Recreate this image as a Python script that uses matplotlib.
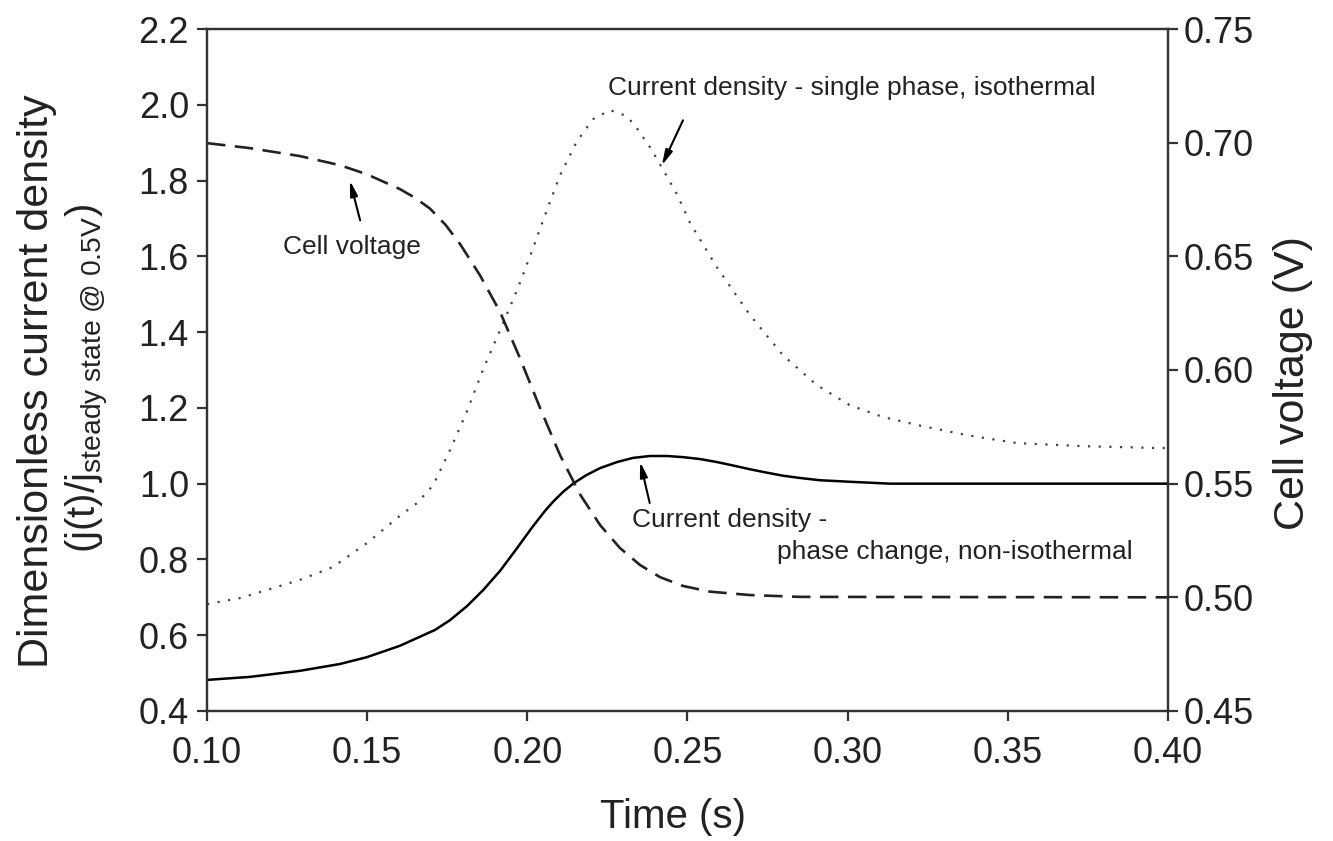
#!/usr/bin/env python
# -*- coding: utf-8 -*-
"""
Transient response: dimensionless current density and cell voltage vs time
"""

import matplotlib
matplotlib.use('Agg')
import matplotlib.pyplot as plt

# Global settings
plt.rcParams['font.family'] = ['Liberation Sans', 'DejaVu Sans']
plt.rcParams['mathtext.fontset'] = 'custom'
plt.rcParams['mathtext.rm'] = 'Liberation Sans'
plt.rcParams['mathtext.it'] = 'Liberation Sans'
plt.rcParams['figure.dpi'] = 100

# Current density - phase change, non-isothermal (left axis)
t_phase = [0.1000, 0.1134, 0.1290, 0.1415, 0.1499, 0.1602, 0.1712, 0.1759,
           0.1812, 0.1862, 0.1915, 0.1968, 0.2018, 0.2055, 0.2080, 0.2111,
           0.2143, 0.2183, 0.2227, 0.2280, 0.2330, 0.2383, 0.2436, 0.2486,
           0.2539, 0.2592, 0.2642, 0.2695, 0.2748, 0.2798, 0.2851, 0.2914,
           0.3007, 0.3132, 0.4000]
j_phase = [0.482, 0.490, 0.506, 0.524, 0.542, 0.572, 0.614, 0.640,
           0.677, 0.719, 0.770, 0.830, 0.888, 0.928, 0.952, 0.978,
           1.000, 1.022, 1.041, 1.057, 1.068, 1.073, 1.073, 1.070,
           1.065, 1.057, 1.048, 1.038, 1.029, 1.021, 1.015, 1.009,
           1.005, 1.000, 1.000]

# Current density - single phase, isothermal (left axis)
t_single = [0.1000, 0.1103, 0.1197, 0.1290, 0.1393, 0.1499, 0.1549, 0.1602,
            0.1656, 0.1706, 0.1759, 0.1812, 0.1862, 0.1915, 0.1968, 0.2018,
            0.2061, 0.2102, 0.2155, 0.2205, 0.2258, 0.2311, 0.2342, 0.2383,
            0.2423, 0.2467, 0.2508, 0.2592, 0.2695, 0.2798, 0.2904, 0.3007,
            0.3110, 0.3216, 0.3372, 0.3529, 0.3735, 0.3966, 0.4000]
j_single = [0.682, 0.698, 0.722, 0.746, 0.780, 0.843, 0.878, 0.915,
            0.949, 0.996, 1.089, 1.192, 1.302, 1.405, 1.511, 1.622,
            1.722, 1.814, 1.904, 1.962, 1.986, 1.970, 1.938, 1.888,
            1.830, 1.764, 1.688, 1.571, 1.445, 1.339, 1.260, 1.207,
            1.176, 1.155, 1.128, 1.107, 1.099, 1.094, 1.094]

# Cell voltage (right axis)
t_volt = [0.1000, 0.1134, 0.1290, 0.1415, 0.1499, 0.1602, 0.1650, 0.1696,
          0.1745, 0.1790, 0.1852, 0.1915, 0.1977, 0.2040, 0.2102, 0.2164,
          0.2227, 0.2289, 0.2352, 0.2414, 0.2486, 0.2570, 0.2695, 0.2851,
          0.4000]
v_cell = [0.6998, 0.6976, 0.6941, 0.6901, 0.6861, 0.6796, 0.6757, 0.6710,
          0.6638, 0.6554, 0.6417, 0.6255, 0.6052, 0.5832, 0.5626, 0.5454,
          0.5318, 0.5217, 0.5142, 0.5089, 0.5050, 0.5025, 0.5010, 0.5002,
          0.5000]

x_ticks = [0.10, 0.15, 0.20, 0.25, 0.30, 0.35, 0.40]
y_ticks = [0.4, 0.6, 0.8, 1.0, 1.2, 1.4, 1.6, 1.8, 2.0, 2.2]
v_ticks = [0.45, 0.50, 0.55, 0.60, 0.65, 0.70, 0.75]

# Annotations: (text, text position, arrow tail, arrow head) in data coords
annotations = [
    ('Current density - single phase, isothermal', (0.2252, 2.044),
     (0.2486, 1.959), (0.2420, 1.840)),
    ('Cell voltage', (0.1237, 1.624), (0.1478, 1.695), (0.1446, 1.800)),
    ('Current density -', (0.2327, 0.904), (0.2382, 0.949), (0.2352, 1.058)),
    ('phase change, non-isothermal', (0.2779, 0.8195), None, None),
]

AXIS_COLOR = '#333333'
TEXT_COLOR = '#222222'


def style_axis(ax):
    for side in ax.spines.values():
        side.set_linewidth(1.6)
        side.set_color(AXIS_COLOR)
    ax.tick_params(direction='out', length=7, width=1.6, colors=AXIS_COLOR,
                   labelcolor=TEXT_COLOR, labelsize=26)


def create_figure(output_path):
    fig = plt.figure(figsize=(13.33, 8.41))
    ax = fig.add_axes([0.1553, 0.1546, 0.7209, 0.8109])
    ax2 = ax.twinx()

    # Curves
    ax.plot(t_phase, j_phase, color='black', linewidth=1.8)
    ax.plot(t_single, j_single, color='#444444', linewidth=1.6,
            linestyle=(0, (1, 3.8)))
    ax2.plot(t_volt, v_cell, color='#222222', linewidth=1.9,
             linestyle=(0, (7, 3.6)))

    ax.set_xlim(0.10, 0.40)
    ax.set_ylim(0.4, 2.2)
    ax2.set_ylim(0.45, 0.75)

    ax.set_xticks(x_ticks)
    ax.set_xticklabels([f'{v:.2f}' for v in x_ticks])
    ax.set_yticks(y_ticks)
    ax.set_yticklabels([f'{v:.1f}' for v in y_ticks])
    ax2.set_yticks(v_ticks)
    ax2.set_yticklabels([f'{v:.2f}' for v in v_ticks])

    style_axis(ax)
    style_axis(ax2)
    ax.tick_params(axis='y', pad=6)
    ax.tick_params(axis='x', pad=11)
    ax.tick_params(top=False)
    ax2.tick_params(axis='y', pad=4)

    # Annotations with arrows
    for label, pos, tail, head in annotations:
        ax.text(pos[0], pos[1], label, fontsize=19, color=TEXT_COLOR,
                ha='left', va='center')
        if tail is not None:
            ax.annotate('', xy=head, xytext=tail,
                        arrowprops=dict(arrowstyle='-|>,head_length=0.9,head_width=0.22',
                                        lw=1.5, color='black',
                                        shrinkA=0, shrinkB=0))

    # Axis labels
    fig.text(0.505, 0.0285, 'Time (s)', fontsize=29, color=TEXT_COLOR,
             ha='center', va='center')
    fig.text(0.028, 0.547, 'Dimensionless current density', fontsize=31,
             color=TEXT_COLOR, rotation=90, ha='center', va='center')
    fig.text(0.066, 0.55,
             r'$\mathregular{(j(t)/j_{steady\ state\ @\ 0.5V})}$',
             fontsize=29, color=TEXT_COLOR, rotation=90,
             ha='center', va='center')
    fig.text(0.970, 0.545, 'Cell voltage (V)', fontsize=31,
             color=TEXT_COLOR, rotation=90, ha='center', va='center')

    fig.savefig(output_path, dpi=100)
    return fig


def main():
    create_figure('out.png')


if __name__ == '__main__':
    main()
